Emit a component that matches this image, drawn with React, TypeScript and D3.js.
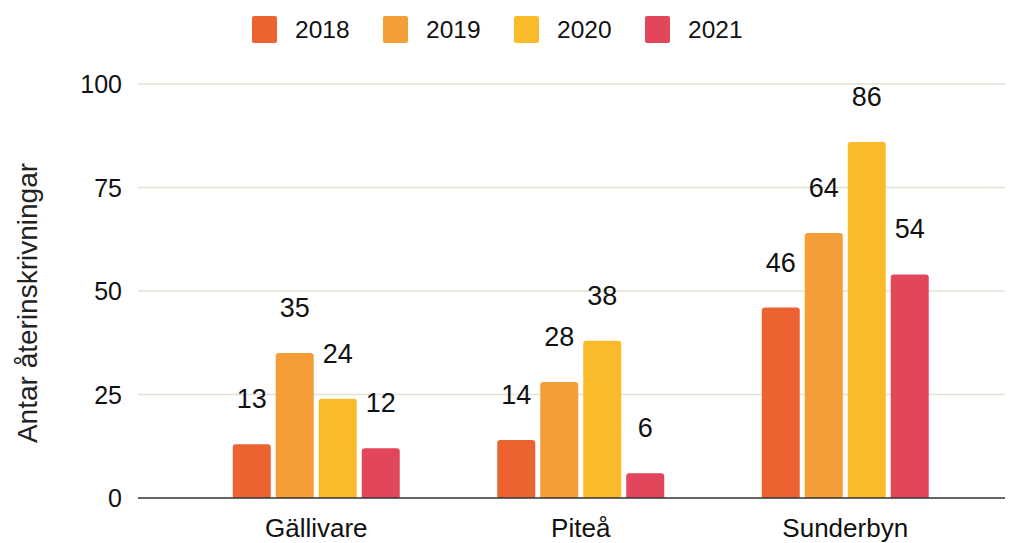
import React from "react";
import * as d3 from "d3";

const categories = ["Gällivare", "Piteå", "Sunderbyn"];
const years = ["2018", "2019", "2020", "2021"];
const values2018 = [13, 14, 46];
const values2019 = [35, 28, 64];
const values2020 = [24, 38, 86];
const values2021 = [12, 6, 54];
const yTicks = [0, 25, 50, 75, 100];
const colors = ["#EC6331", "#F59E38", "#FABB2B", "#E2465A"];
const yTitle = "Antar återinskrivningar";

const seriesValues = [values2018, values2019, values2020, values2021];

const W = 1012;
const H = 543;
const FONT = "'Liberation Sans', Arial, sans-serif";

export default function App() {
  const y = d3.scaleLinear().domain([0, 100]).range([498, 84]);
  const x0 = d3.scaleBand<string>().domain(categories).range([184, 977.5]).padding(0);
  const groupW = 167;
  const x1 = d3.scaleBand<string>().domain(years).range([0, groupW]).paddingInner(0.116).paddingOuter(0);
  const groupStart = (c: string) => (x0(c) as number) + (x0.bandwidth() - groupW) / 2;

  return (
    <svg width={W} height={H} style={{ position: "absolute", left: 0, top: 0, background: "#fff" }} fontFamily={FONT}>
      {/* legend */}
      {years.map((yr, i) => {
        const lx = 252 + i * 131;
        return (
          <g key={yr}>
            <rect x={lx} y={16} width={25} height={27} rx={2} fill={colors[i]} />
            <text x={lx + 43} y={29} dominantBaseline="central" fontSize={24.5} fill="#111">{yr}</text>
          </g>
        );
      })}
      {/* grid */}
      {yTicks.map((t) => (
        <g key={t}>
          {t !== 0 && <line x1={138} x2={1005} y1={y(t)} y2={y(t)} stroke="#e4e1d5" strokeWidth={1.5} />}
          <text x={122} y={y(t)} textAnchor="end" dominantBaseline="central" fontSize={25} fill="#111">{t}</text>
        </g>
      ))}
      {/* y title */}
      <text transform={`translate(27,${303}) rotate(-90)`} textAnchor="middle" dominantBaseline="central" fontSize={28} fill="#222">{yTitle}</text>
      {/* bars */}
      {categories.map((c, ci) => (
        <g key={c} transform={`translate(${groupStart(c)},0)`}>
          {years.map((yr, si) => {
            const v = seriesValues[si][ci];
            const bx = x1(yr) as number;
            const bw = x1.bandwidth();
            return (
              <g key={yr}>
                <path
                  d={`M${bx},${y(0)} V${y(v) + 3} Q${bx},${y(v)} ${bx + 3},${y(v)} H${bx + bw - 3} Q${bx + bw},${y(v)} ${bx + bw},${y(v) + 3} V${y(0)} Z`}
                  fill={colors[si]}
                />
                <text x={bx + bw / 2} y={y(v) - 45} textAnchor="middle" dominantBaseline="central" fontSize={27} fill="#111">{v}</text>
              </g>
            );
          })}
          <text x={groupW / 2} y={528} textAnchor="middle" dominantBaseline="central" fontSize={26} fill="#111">{c}</text>
        </g>
      ))}
      {/* baseline */}
      <line x1={138} x2={1005} y1={y(0)} y2={y(0)} stroke="#333" strokeWidth={1.5} />
    </svg>
  );
}
